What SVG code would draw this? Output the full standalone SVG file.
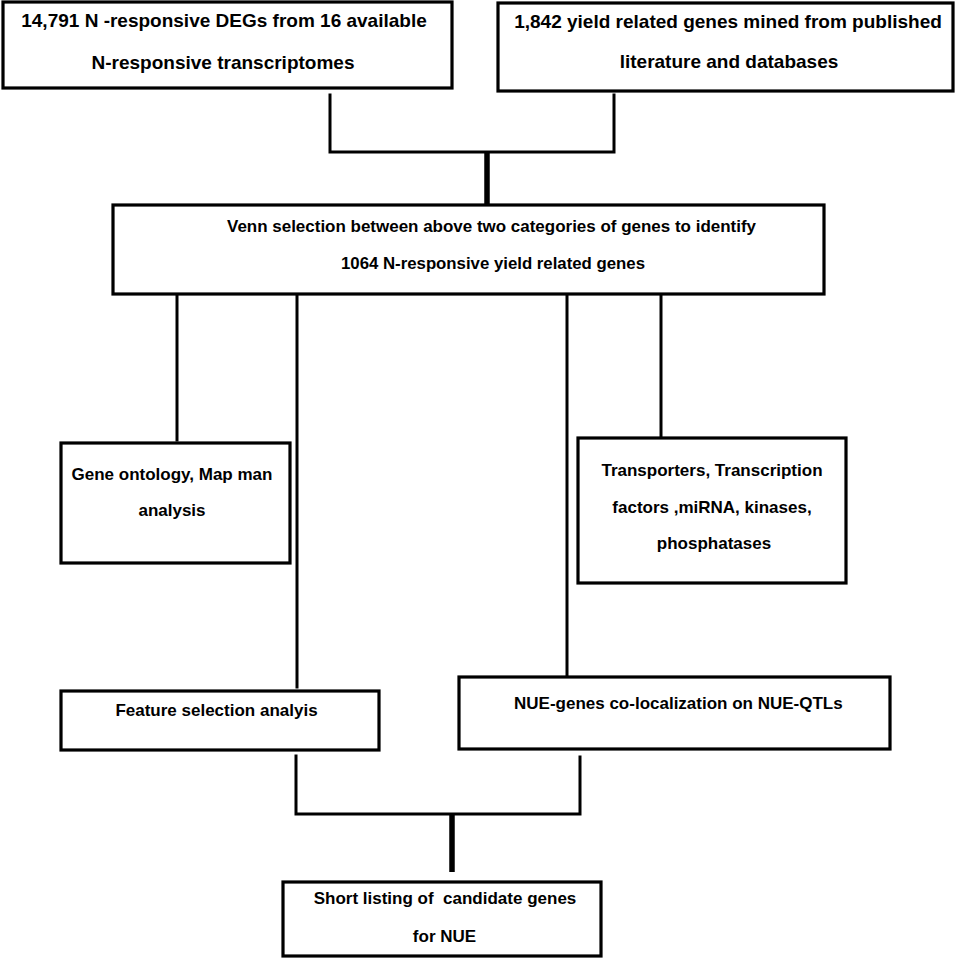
<svg xmlns="http://www.w3.org/2000/svg" width="957" height="960" viewBox="0 0 957 960">
<style>
.box{fill:#fff;stroke:#000;stroke-width:3.2}
.t{font-family:"Liberation Sans",Arial,sans-serif;font-weight:bold;fill:#000;text-anchor:middle;white-space:pre}
.t19{font-size:19px}
.t17{font-size:17px}
.t16{font-size:16px}
.c{stroke:#000;stroke-width:3;fill:none;stroke-linecap:square}
.ck{stroke:#000;stroke-width:5.5;fill:none}
</style>
<rect width="957" height="960" fill="#fff"/>
<g id="connectors">
<path class="c" d="M330 95 V152 H614 V95"/>
<line class="ck" x1="487" y1="151" x2="487" y2="210"/>
<line class="c" x1="177" y1="295" x2="177" y2="440"/>
<line class="c" x1="297" y1="295" x2="297" y2="687"/>
<line class="c" x1="567" y1="295" x2="567" y2="676"/>
<line class="c" x1="661" y1="295" x2="661" y2="437"/>
<path class="c" d="M296 756 V814 H580 V757"/>
<line class="ck" x1="452" y1="813" x2="452" y2="872"/>
</g>
<g id="n1">
<rect class="box" x="3" y="2" width="449" height="86"/>
<text class="t t19" x="224" y="27">14,791 N -responsive DEGs from 16 available</text>
<text class="t t19" x="223" y="69">N-responsive transcriptomes</text>
</g>
<g id="n2">
<rect class="box" x="498" y="3" width="455" height="88"/>
<text class="t t19" x="728" y="28">1,842 yield related genes mined from published</text>
<text class="t t19" x="729" y="68">literature and databases</text>
</g>
<g id="n3">
<rect class="box" x="113" y="205" width="711" height="89"/>
<text class="t t16" x="491.5" y="232" textLength="529" lengthAdjust="spacingAndGlyphs">Venn selection between above two categories of genes to identify</text>
<text class="t t16" x="493" y="269" textLength="304" lengthAdjust="spacingAndGlyphs">1064 N-responsive yield related genes</text>
</g>
<g id="n4">
<rect class="box" x="61" y="443" width="229" height="120"/>
<text class="t t17" x="172" y="480">Gene ontology, Map man</text>
<text class="t t17" x="172" y="516">analysis</text>
</g>
<g id="n5">
<rect class="box" x="578" y="438" width="268" height="145"/>
<text class="t t17" x="712" y="476">Transporters, Transcription</text>
<text class="t t17" x="712" y="513">factors ,miRNA, kinases,</text>
<text class="t t17" x="714" y="549">phosphatases</text>
</g>
<g id="n6">
<rect class="box" x="61" y="691" width="318" height="59"/>
<text class="t t17" x="216.5" y="716">Feature selection analyis</text>
</g>
<g id="n7">
<rect class="box" x="459" y="677" width="431" height="72"/>
<text class="t t17" x="514" y="709" style="text-anchor:start">NUE-genes co-localization on NUE-QTLs</text>
</g>
<g id="n8">
<rect class="box" x="283" y="882" width="318" height="74"/>
<text class="t t17" x="445" y="904">Short listing of  candidate genes</text>
<text class="t t17" x="444.5" y="942">for NUE</text>
</g>
</svg>
